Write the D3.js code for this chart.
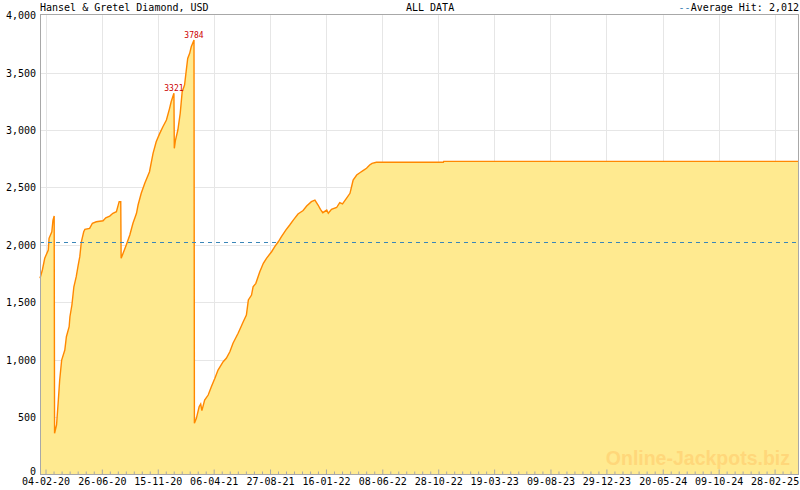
<!DOCTYPE html>
<html><head><meta charset="utf-8">
<script src="https://cdn.jsdelivr.net/npm/d3@7"></script>
<style>
html,body{margin:0;padding:0;background:#fff;}
svg{display:block;}
text{font-family:"DejaVu Sans Mono",monospace;}
</style></head><body>
<svg id="c" width="800" height="490"></svg>
<script>
const chartTitle = "Hansel & Gretel Diamond, USD";
const rangeLabel = "ALL DATA";
const averageHit = 2012;
const watermark = "Online-Jackpots.biz";

const dates = [
 "2020-01-21","2020-01-27","2020-02-02","2020-02-11","2020-02-13","2020-02-20","2020-02-23","2020-02-26",
 "2020-02-27","2020-03-03","2020-03-07","2020-03-11","2020-03-16","2020-03-24","2020-03-28","2020-04-04",
 "2020-04-06","2020-04-11","2020-04-16","2020-04-22","2020-04-27","2020-05-01","2020-05-05","2020-05-11",
 "2020-05-14","2020-05-26","2020-06-02","2020-06-12","2020-06-29","2020-07-06","2020-07-16","2020-07-24",
 "2020-08-02","2020-08-09","2020-08-13","2020-08-14","2020-08-19","2020-08-27","2020-09-05","2020-09-13",
 "2020-09-22","2020-09-26","2020-10-04","2020-10-13","2020-10-25","2020-11-03","2020-11-11","2020-11-20",
 "2020-11-28","2020-12-07","2020-12-15","2020-12-19","2020-12-26","2020-12-27","2020-12-30","2021-01-05",
 "2021-01-11","2021-01-16","2021-01-22","2021-01-26","2021-01-30","2021-02-04","2021-02-08","2021-02-15",
 "2021-02-16","2021-02-21","2021-02-28","2021-03-04","2021-03-07","2021-03-14","2021-03-23","2021-03-31",
 "2021-04-09","2021-04-17","2021-04-30","2021-05-08","2021-05-17","2021-05-25","2021-06-07","2021-06-20",
 "2021-06-28","2021-07-03","2021-07-11","2021-07-15","2021-07-22","2021-08-01","2021-08-10","2021-08-18",
 "2021-08-31","2021-09-08","2021-09-17","2021-09-25","2021-10-06","2021-10-16","2021-10-25","2021-11-06",
 "2021-11-19","2021-11-28","2021-12-10","2021-12-19","2021-12-27","2022-01-02","2022-01-08","2022-01-18",
 "2022-01-22","2022-01-30","2022-02-12","2022-02-20","2022-02-27","2022-03-09","2022-03-18","2022-03-22",
 "2022-03-26","2022-04-04","2022-04-12","2022-04-20","2022-04-29","2022-05-07","2022-05-13","2022-05-24",
 "2022-11-10","2022-11-11","2025-05-01"
];
const values = [
 1709,1781,1883,1955,2057,2114,2216,2251,
 359,431,620,823,997,1084,1200,1287,
 1374,1476,1635,1723,1824,1897,2027,2114,
 2135,2144,2188,2201,2210,2236,2251,2275,
 2289,2376,2376,1883,1926,1999,2086,2188,
 2275,2347,2449,2536,2637,2797,2898,2971,
 3029,3087,3189,3246,3321,2841,2913,3000,
 3146,3334,3392,3508,3624,3668,3725,3784,
 446,489,590,614,556,649,692,765,
 838,910,982,1012,1069,1143,1230,1331,
 1389,1520,1563,1635,1665,1766,1839,1883,
 1940,1984,2027,2071,2129,2173,2216,2269,
 2299,2338,2376,2390,2347,2309,2280,2303,
 2275,2309,2325,2367,2356,2405,2449,2506,
 2565,2608,2628,2646,2667,2695,2710,2719,
 2719,2727,2727
];
const peakDates = ["2020-12-26","2021-02-15"];
const peakValues = [3321,3784];
const xTickLabels = ["04-02-20","26-06-20","15-11-20","06-04-21","27-08-21","16-01-22","08-06-22",
 "28-10-22","19-03-23","09-08-23","29-12-23","20-05-24","09-10-24","28-02-25"];
const yTickValues = [0,500,1000,1500,2000,2500,3000,3500,4000];

const parse = d3.timeParse("%Y-%m-%d");
const parseTick = d3.timeParse("%d-%m-%y");
const data = dates.map((d,i)=>({date:parse(d), value:values[i]}));

const L=40, R=799, T=15.2, B=474.5;
const x = d3.scaleTime().domain(d3.extent(data,d=>d.date)).range([L,R]);
const y = d3.scaleLinear().domain([0,4000]).range([B,T]);

const svg = d3.select("#c");
const gridColor="#e6e6e6", borderColor="#a8a8a8";

const majorDates = xTickLabels.map(parseTick);
const minorDates = [];
for(let i=0;i<majorDates.length;i++){
  const a=majorDates[i], b=majorDates[i+1]||new Date(+majorDates[i]+(majorDates[i]-majorDates[i-1]));
  for(let k=1;k<7;k++){
    const t=new Date(+a+(b-a)*k/7);
    if(t<=x.domain()[1] && x(t)<R-0.6) minorDates.push(t);
  }
}

// gridlines
const grid = svg.append("g");
grid.selectAll(".hg").data(yTickValues.filter(v=>v>0&&v<4000)).join("line")
  .attr("x1",L).attr("x2",R).attr("y1",d=>Math.round(y(d))+0.5).attr("y2",d=>Math.round(y(d))+0.5)
  .attr("stroke",gridColor).attr("stroke-width",1);
grid.selectAll(".vg").data(majorDates).join("line")
  .attr("x1",d=>Math.round(x(d))+0.5).attr("x2",d=>Math.round(x(d))+0.5).attr("y1",T).attr("y2",B)
  .attr("stroke",gridColor).attr("stroke-width",1);

// area + line
const area = d3.area().x(d=>x(d.date)).y0(y(0)).y1(d=>y(d.value));
const line = d3.line().x(d=>x(d.date)).y(d=>y(d.value));
svg.append("path").datum(data).attr("d",area).attr("fill","#ffea90");
svg.append("path").datum(data).attr("d",line).attr("fill","none").attr("stroke","#ff8800").attr("stroke-width",1.4).attr("stroke-linejoin","miter");

// average
const ay = Math.round(y(averageHit))-0.5;
svg.append("line").attr("x1",L).attr("x2",R).attr("y1",ay).attr("y2",ay)
  .attr("stroke","#3a86b8").attr("stroke-width",1).attr("stroke-dasharray","4,4");

// watermark
svg.append("text").attr("x",790).attr("y",465).attr("text-anchor","end")
  .style("font-family","'Liberation Sans',Arial,sans-serif").style("font-weight","bold").style("font-size","19.5px")
  .attr("fill","#ffd77a").text(watermark);

// border
svg.append("rect").attr("x",L+0.5).attr("y",Math.round(T)-0.5).attr("width",R-L-1).attr("height",Math.round(B)-Math.round(T))
  .attr("fill","none").attr("stroke",borderColor).attr("stroke-width",1);

// x axis major
const xMajor = d3.axisBottom(x).tickValues(majorDates).tickSizeInner(-5).tickSizeOuter(0).tickPadding(4)
  .tickFormat((d,i)=>xTickLabels[i]);
const gx = svg.append("g").attr("transform",`translate(0,${Math.round(B)-0.5})`).call(xMajor);
gx.select(".domain").remove();
gx.selectAll(".tick line").attr("stroke",borderColor);
gx.selectAll(".tick text").attr("fill","#000").style("font-size","10px").attr("y",3).attr("dy","0.71em");

const xMinor = d3.axisBottom(x).tickValues(minorDates).tickSizeInner(-3).tickSizeOuter(0).tickFormat("");
const gxm = svg.append("g").attr("transform",`translate(0,${Math.round(B)-0.5})`).call(xMinor);
gxm.select(".domain").remove();
gxm.selectAll(".tick line").attr("stroke",borderColor);

// y axis
const yAxis = d3.axisLeft(y).tickValues(yTickValues).tickSize(0).tickPadding(4).tickFormat(d3.format(","));
const gy = svg.append("g").attr("transform",`translate(${L},0)`).call(yAxis);
gy.select(".domain").remove();
gy.selectAll(".tick text").attr("fill","#000").style("font-size","10px")
  .attr("dy",d=>d===0?"-0.05em":"0.35em");

// peak labels
svg.selectAll(".pk").data(peakDates.map((d,i)=>({date:parse(d),value:peakValues[i]}))).join("text")
  .attr("x",d=>x(d.date)).attr("y",d=>y(d.value)-2.5).attr("text-anchor","middle")
  .attr("fill","#cc0000").style("font-size","8px").text(d=>d.value);

// header
svg.append("text").attr("x",L).attr("y",10.5).style("font-size","10px").attr("fill","#000").text(chartTitle);
svg.append("text").attr("x",406).attr("y",10.5).style("font-size","10px").attr("fill","#000").text(rangeLabel);
const leg = svg.append("text").attr("x",799).attr("y",10.5).attr("text-anchor","end").style("font-size","10px").attr("fill","#000");
leg.append("tspan").attr("fill","#3a86b8").text("--");
leg.append("tspan").text("Average Hit: " + d3.format(",")(averageHit));
</script>
</body></html>
